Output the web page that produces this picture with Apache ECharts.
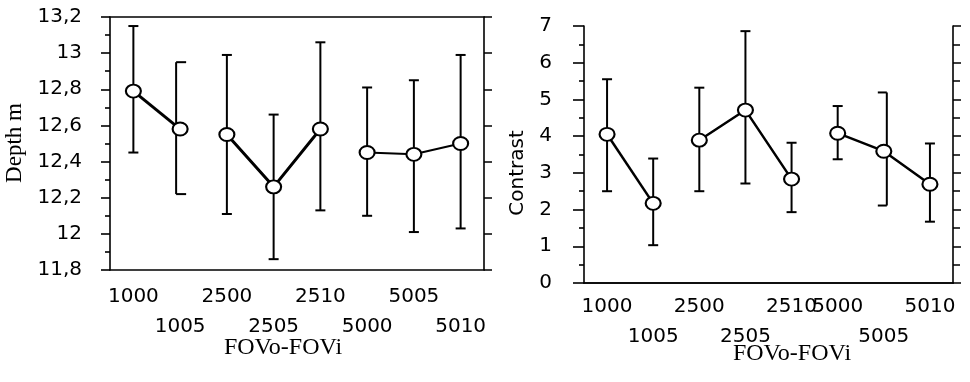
<!DOCTYPE html>
<html><head><meta charset="utf-8">
<script src="https://cdn.jsdelivr.net/npm/echarts@6/dist/echarts.min.js"></script>
<style>html,body{margin:0;padding:0;background:#fff}#c{width:970px;height:382px}</style>
</head><body><div id="c"></div>
<script>
const categories = ['1000','1005','2500','2505','2510','5000','5005','5010'];
const groups = [0,0,1,1,1,2,2,2];
const depthMean = [12.79,12.58,12.55,12.26,12.58,12.45,12.44,12.50];
const depthHigh = [13.15,12.95,12.99,12.66,13.06,12.81,12.85,12.99];
const depthLow  = [12.45,12.22,12.11,11.86,12.13,12.10,12.01,12.03];
const contrastMean = [4.05,2.17,3.89,4.71,2.83,4.08,3.59,2.69];
const contrastHigh = [5.55,3.39,5.32,6.86,3.82,4.82,5.19,3.80];
const contrastLow  = [2.50,1.03,2.50,2.71,1.93,3.37,2.11,1.67];
const depthLabelRow = [0,1,0,1,0,1,0,1];
const contrastLabelRow = [0,1,0,1,0,0,1,0];
const depthAxis = {min: 11.8, max: 13.2, interval: 0.2};
const contrastAxis = {min: 0, max: 7, interval: 1};
// cap style per bar: 0 = both sides, 1 = right side only, -1 = left side only
const depthCaps = [0,1,0,0,0,0,0,0];
const contrastCaps = [0,0,0,0,0,0,-1,0];

const chart = echarts.init(document.getElementById('c'), null, {renderer: 'canvas'});
const SANS = 'DejaVu Sans';
const lineStyle = {color: '#000', width: 1.6};

function bottomX(grid, rows, margin) {
  return {
    type: 'category', gridIndex: grid, data: categories, position: 'bottom',
    axisLine: {lineStyle: lineStyle},
    axisTick: {alignWithLabel: true, length: 6, lineStyle: {color: '#000', width: 1.5}},
    axisLabel: {color: '#000', fontFamily: SANS, fontSize: 20, lineHeight: 30, margin: margin,
      interval: 0, formatter: (v, i) => rows[i] ? '\n' + v : v},
    splitLine: {show: false}
  };
}
function topX(grid) {
  return {
    type: 'category', gridIndex: grid, data: categories, position: 'top',
    axisLine: {lineStyle: lineStyle},
    axisTick: {alignWithLabel: true, length: 5, lineStyle: {color: '#000', width: 1.5}},
    axisLabel: {show: false}, splitLine: {show: false}
  };
}
function leftY(grid, ax, margin, fmt, majorLen) {
  return {
    type: 'value', gridIndex: grid, position: 'left', min: ax.min, max: ax.max, interval: ax.interval,
    axisLine: {show: true, lineStyle: lineStyle},
    axisTick: {show: true, inside: false, length: majorLen, lineStyle: {color: '#000', width: 1.6}},
    minorTick: {show: true, splitNumber: 2, length: 5, lineStyle: {color: '#000', width: 1.6}},
    axisLabel: {color: '#000', fontFamily: SANS, fontSize: 20, margin: margin, formatter: fmt},
    splitLine: {show: false}
  };
}
function rightY(grid, ax, minor) {
  return {
    type: 'value', gridIndex: grid, position: 'right', min: ax.min, max: ax.max, interval: ax.interval,
    axisLine: {show: true, lineStyle: lineStyle},
    axisTick: {show: true, inside: false, length: 8, lineStyle: {color: '#000', width: 1.5}},
    minorTick: {show: minor, splitNumber: 2, length: 7, lineStyle: {color: '#000', width: 1.5}},
    axisLabel: {show: false}, splitLine: {show: false}
  };
}
function errSeries(xi, yi, lo, hi, caps) {
  return {
    type: 'custom', xAxisIndex: xi, yAxisIndex: yi, z: 1,
    data: categories.map((c, i) => [i, lo[i], hi[i], caps[i]]),
    renderItem: function (params, api) {
      const x = api.value(0);
      const side = api.value(3);
      const a = api.coord([x, api.value(1)]);
      const b = api.coord([x, api.value(2)]);
      let cx = a[0], l = 5, r = 5;
      if (side === 1) { cx = a[0] - 4; l = 0; r = 10; }
      if (side === -1) { cx = a[0] + 3; l = 9; r = 0; }
      const st = {stroke: '#000', lineWidth: 2};
      return {type: 'group', children: [
        {type: 'line', shape: {x1: cx, y1: a[1], x2: cx, y2: b[1]}, style: st},
        {type: 'line', shape: {x1: cx - l, y1: a[1], x2: cx + r, y2: a[1]}, style: st},
        {type: 'line', shape: {x1: cx - l, y1: b[1], x2: cx + r, y2: b[1]}, style: st}
      ]};
    }
  };
}
function lineSeries(xi, yi, mean, widths) {
  return [0, 1, 2].map(g => ({
    type: 'line', xAxisIndex: xi, yAxisIndex: yi, z: 3,
    data: mean.map((v, i) => groups[i] === g ? v : '-'),
    symbol: 'emptyCircle', symbolSize: [15, 13],
    itemStyle: {color: '#000', borderColor: '#000', borderWidth: 2.2},
    lineStyle: {color: '#000', width: widths[g]},
    connectNulls: false
  }));
}
const commaFmt = v => String(Math.round(v * 10) / 10).replace('.', ',');

chart.setOption({
  animation: false,
  backgroundColor: '#fff',
  grid: [
    {left: 110, top: 17, width: 374, height: 253},
    {left: 584, top: 26, width: 369, height: 257}
  ],
  xAxis: [bottomX(0, depthLabelRow, 12), topX(0), bottomX(1, contrastLabelRow, 9), topX(1)],
  yAxis: [leftY(0, depthAxis, 28, commaFmt, 9), rightY(0, depthAxis, false),
          leftY(1, contrastAxis, 32, v => String(v), 11), rightY(1, contrastAxis, true)],
  series: [
    errSeries(0, 0, depthLow, depthHigh, depthCaps),
    ...lineSeries(0, 0, depthMean, [3, 3, 2]),
    errSeries(2, 2, contrastLow, contrastHigh, contrastCaps),
    ...lineSeries(2, 2, contrastMean, [2.5, 2.5, 2.5])
  ],
  graphic: [
    {type: 'text', x: 283, y: 348, style: {text: 'FOVo-FOVi', font: 'normal 400 24px "Liberation Serif"', fill: '#000', align: 'center', verticalAlign: 'middle'}},
    {type: 'text', x: 792, y: 354, style: {text: 'FOVo-FOVi', font: 'normal 400 24px "Liberation Serif"', fill: '#000', align: 'center', verticalAlign: 'middle'}},
    {type: 'text', x: 15, y: 143, rotation: Math.PI / 2, style: {text: 'Depth m', font: 'normal 400 23px "Liberation Serif"', fill: '#000', align: 'center', verticalAlign: 'middle'}},
    {type: 'text', x: 518, y: 173, rotation: Math.PI / 2, style: {text: 'Contrast', font: 'normal 400 20px "DejaVu Sans"', fill: '#000', align: 'center', verticalAlign: 'middle'}}
  ]
});
</script></body></html>
